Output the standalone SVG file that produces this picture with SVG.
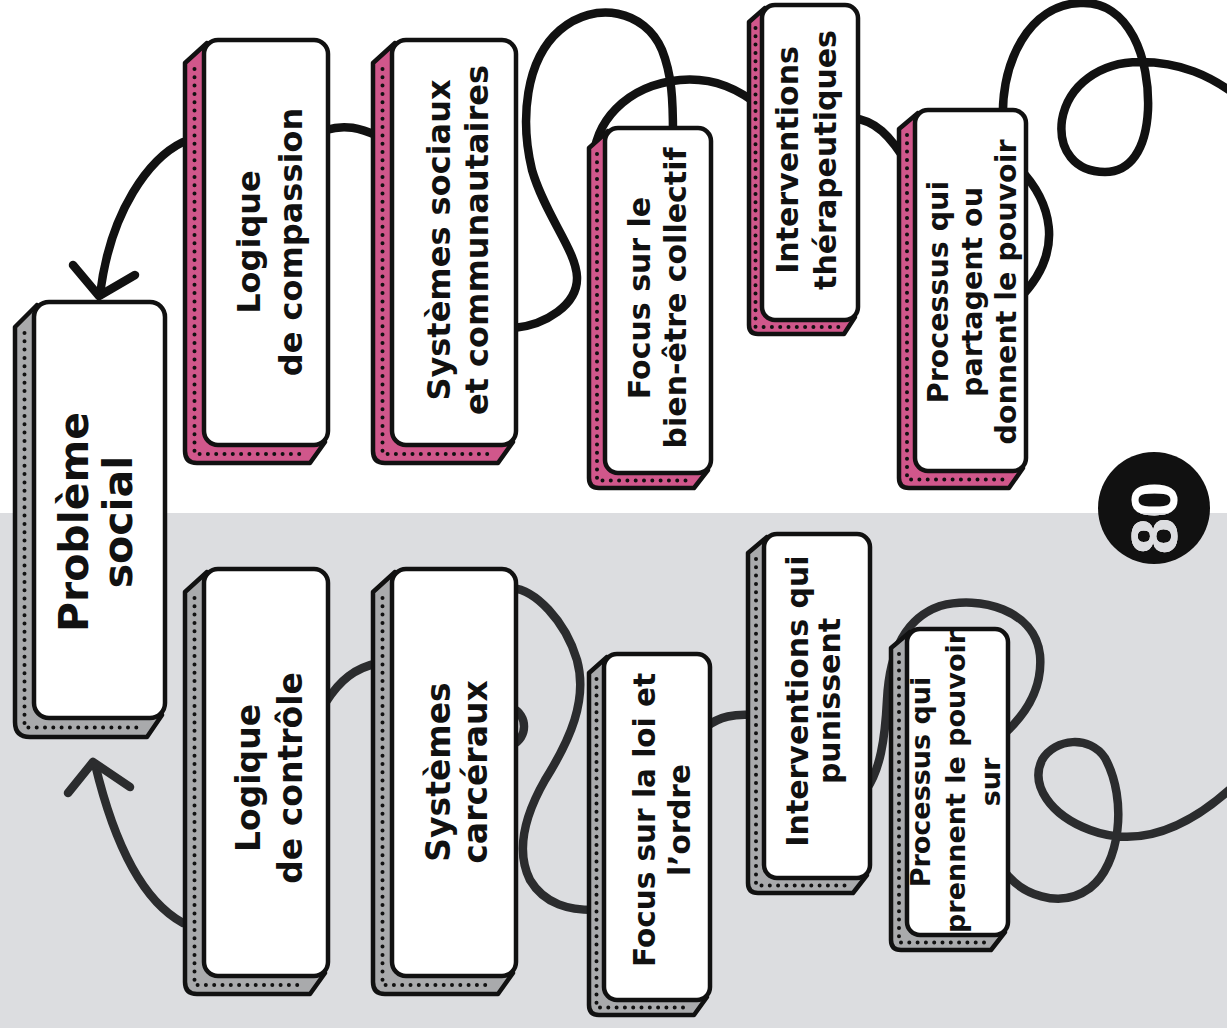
<svg xmlns="http://www.w3.org/2000/svg" width="1227" height="1028" viewBox="0 0 1227 1028">
<defs>
<clipPath id="low"><rect x="0" y="513" width="1227" height="515"/></clipPath>
</defs>
<style>
.front{fill:#fff;stroke:#111;stroke-width:4.5}
.sh{stroke:#111;stroke-width:4.5;stroke-linejoin:round}
.pk{fill:#d0578b}
.gr{fill:#a9aaac}
.dots{fill:none;stroke:#111;stroke-width:4;stroke-linecap:round;stroke-dasharray:0 8.3}
.t{font-family:"DejaVu Sans",sans-serif;font-weight:bold;fill:#111;text-anchor:middle}
.lt{fill:none;stroke:#111;stroke-width:8.5;stroke-linecap:round;stroke-linejoin:round}
.lb{fill:none;stroke:#2b2c2e;stroke-width:8.5;stroke-linecap:round;stroke-linejoin:round}
.num{font-family:"Liberation Sans",Arial,sans-serif;font-weight:bold;font-size:65px;text-anchor:middle}
</style>
<rect x="0" y="0" width="1227" height="1028" fill="#fff"/>
<rect x="0" y="513" width="1227" height="515" fill="#dcdde0"/>

<g id="connectors">
<path class="lt" d="M183,142 C150,158 110,210 100,295"/>
<path class="lt" d="M73,265 L99,296 L135,275"/>
<path class="lt" d="M326,130 C345,124 360,128 378,136"/>
<path class="lt" d="M514,328 C545,325 578,305 577,277 C576,250 545,215 532,170 C520,120 525,60 560,30 C595,0 645,10 662,50 C672,75 673,100 673,135"/>
<path class="lt" d="M594,175 C588,120 630,85 680,80 C715,77 740,90 762,108"/>
<path class="lt" d="M852,118 C875,120 890,135 908,165"/>
<path class="lt" d="M1018,167 C1050,200 1068,250 1018,300"/>
<path class="lt" d="M1003,125 C1000,60 1030,5 1080,3 C1130,0 1150,60 1148,110 C1146,150 1130,172 1105,172 C1075,172 1058,150 1062,120 C1068,85 1100,62 1140,62 C1180,62 1210,75 1240,98"/>
<path class="lb" d="M183,923 C150,905 118,860 95,764"/>
<path class="lb" d="M68,793 L93,762 L130,787"/>
<path class="lb" d="M326,702 C340,680 355,668 378,663"/>
<path class="lb" d="M512,588 C535,590 565,620 577,660 C588,700 570,740 545,780 C525,815 515,850 530,880 C545,905 570,910 594,910"/>
<path class="lb" d="M512,708 C528,715 528,738 512,745"/>
<path class="lb" d="M706,727 C720,716 735,714 752,715"/>
<path class="lb" d="M866,790 C880,770 885,740 887,700 C889,660 900,620 940,606 C980,595 1035,610 1040,655 C1043,690 1025,715 1004,734"/>
<path class="lb" d="M1002,868 C1020,895 1060,910 1090,888 C1120,865 1128,800 1105,758 C1090,735 1055,738 1042,760 C1030,785 1050,815 1090,830 C1130,845 1180,838 1240,780"/>
</g>

<g id="n1">
<path class="sh gr" d="M37,305 L15,327 L15,722 Q15,737 30,737 L147,737 L162,715 Z"/>
<path class="dots" d="M24.5,333 L24.5,727.5 L143,727.5"/>
<rect class="front" x="34" y="302" width="131" height="416" rx="15"/>
<text class="t" font-size="41" transform="translate(0,522) rotate(-90)"><tspan x="0" y="88">Problème</tspan><tspan x="0" y="132">social</tspan></text>
</g>
<g id="n2">
<path class="sh pk" d="M207,43 L185,63 L185,451 Q185,463 197,463 L310,463 L325,442 Z"/>
<path class="dots" d="M194.5,69 L194.5,454 L305,454"/>
<rect class="front" x="204" y="40" width="124" height="405" rx="14"/>
<text class="t" font-size="32" transform="translate(0,242) rotate(-90)"><tspan x="0" y="260">Logique</tspan><tspan x="0" y="302">de compassion</tspan></text>
</g>
<g id="n3">
<path class="sh pk" d="M395,43 L373,63 L373,451 Q373,463 385,463 L498,463 L513,442 Z"/>
<path class="dots" d="M382.5,69 L382.5,454 L493,454"/>
<rect class="front" x="392" y="40" width="124" height="405" rx="14"/>
<text class="t" font-size="32" transform="translate(0,240) rotate(-90)"><tspan x="0" y="450">Systèmes sociaux</tspan><tspan x="0" y="488">et communautaires</tspan></text>
</g>
<g id="n4">
<path class="sh pk" d="M608,131 L589,148 L589,478 Q589,488 599,488 L694,488 L708,470 Z"/>
<path class="dots" d="M597,154 L597,480.5 L689,480.5"/>
<rect class="front" x="605" y="128" width="106" height="345" rx="13"/>
<text class="t" font-size="30" transform="translate(0,298) rotate(-90)"><tspan x="0" y="650">Focus sur le</tspan><tspan x="0" y="686">bien-être collectif</tspan></text>
</g>
<g id="n5">
<path class="sh pk" d="M765,8 L749,22 L749,325 Q749,334 758,334 L844,334 L855,317 Z"/>
<path class="dots" d="M755.5,28 L755.5,327 L839,327"/>
<rect class="front" x="762" y="5" width="96" height="315" rx="13"/>
<text class="t" font-size="30" transform="translate(0,160) rotate(-90)"><tspan x="0" y="798">Interventions</tspan><tspan x="0" y="836">thérapeutiques</tspan></text>
</g>
<g id="n6">
<path class="sh pk" d="M918,113 L899,129 L899,478 Q899,488 909,488 L1009,488 L1023,468 Z"/>
<path class="dots" d="M907,135 L907,479.5 L1004,479.5"/>
<rect class="front" x="915" y="110" width="111" height="361" rx="13"/>
<text class="t" font-size="28.5" transform="translate(0,292) rotate(-90)"><tspan x="0" y="948">Processus qui</tspan><tspan x="0" y="982">partagent ou</tspan><tspan x="0" y="1016">donnent le pouvoir</tspan></text>
</g>
<g id="n7">
<path class="sh gr" d="M207,572 L185,592 L185,982 Q185,994 197,994 L310,994 L325,973 Z"/>
<path class="dots" d="M194.5,598 L194.5,985 L305,985"/>
<rect class="front" x="204" y="569" width="124" height="407" rx="14"/>
<text class="t" font-size="33" transform="translate(0,778) rotate(-90)"><tspan x="0" y="260">Logique</tspan><tspan x="0" y="302">de contrôle</tspan></text>
</g>
<g id="n8">
<path class="sh gr" d="M395,572 L373,592 L373,982 Q373,994 385,994 L498,994 L513,973 Z"/>
<path class="dots" d="M382.5,598 L382.5,985 L493,985"/>
<rect class="front" x="392" y="569" width="124" height="407" rx="14"/>
<text class="t" font-size="33" transform="translate(0,772) rotate(-90)"><tspan x="0" y="450">Systèmes</tspan><tspan x="0" y="487">carcéraux</tspan></text>
</g>
<g id="n9">
<path class="sh gr" d="M607,657 L589,673 L589,1005 Q589,1015 599,1015 L694,1015 L707,997 Z"/>
<path class="dots" d="M596.5,679 L596.5,1007.5 L689,1007.5"/>
<rect class="front" x="604" y="654" width="106" height="346" rx="13"/>
<text class="t" font-size="29.5" transform="translate(0,820) rotate(-90)"><tspan x="0" y="655">Focus sur la loi et</tspan><tspan x="0" y="690">l’ordre</tspan></text>
</g>
<g id="n10">
<path class="sh gr" d="M767,537 L748,553 L748,883 Q748,893 758,893 L853,893 L867,875 Z"/>
<path class="dots" d="M756,559 L756,885.5 L848,885.5"/>
<rect class="front" x="764" y="534" width="106" height="344" rx="13"/>
<text class="t" font-size="30" transform="translate(0,701) rotate(-90)"><tspan x="0" y="808">Interventions qui</tspan><tspan x="0" y="840">punissent</tspan></text>
</g>
<g id="n11">
<path class="sh gr" d="M910,632 L891,648 L891,940 Q891,950 901,950 L991,950 L1005,932 Z"/>
<path class="dots" d="M899,654 L899,942.5 L986,942.5"/>
<rect class="front" x="907" y="629" width="101" height="306" rx="13"/>
<text class="t" font-size="27" transform="translate(0,782) rotate(-90)"><tspan x="0" y="930">Processus  qui</tspan><tspan x="0" y="965">prennent le pouvoir</tspan><tspan x="0" y="1000">sur</tspan></text>
</g>

<g id="badge">
<circle cx="1154" cy="508" r="56" fill="#111"/>
<text class="num" fill="#fff" transform="translate(0,518) rotate(-90)" x="0" y="1177">80</text>
<g clip-path="url(#low)"><text class="num" fill="#dcdde0" transform="translate(0,518) rotate(-90)" x="0" y="1177">80</text></g>
</g>
</svg>
